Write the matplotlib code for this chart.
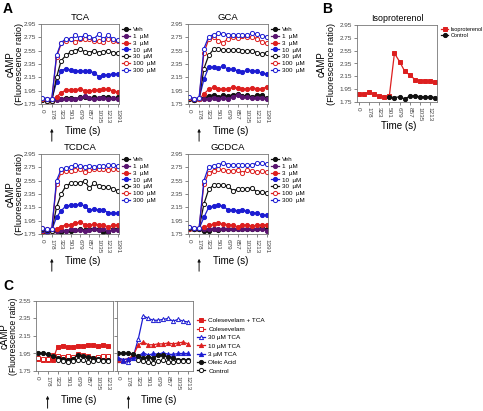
import matplotlib
matplotlib.use('Agg')
import matplotlib.pyplot as plt

plt.rcParams['font.family'] = ['Liberation Sans', 'DejaVu Sans']

W, H = 483, 411

# ---- data -------------------------------------------------------------
ticks_a = ['0', '178', '323', '501', '679', '857', '1035', '1213', '1391']
ticks_bc = ['0', '178', '323', '501', '679', '857', '1035', '1213']

conc_labels = ['Veh', '1  µM', '3  µM', '10  µM', '30  µM', '100  µM', '300  µM']

tca = [
    [1.82, 1.80, 1.80, 1.82, 1.83, 1.84, 1.84, 1.83, 1.85, 1.86, 1.84, 1.85, 1.84, 1.85, 1.86, 1.84, 1.85],
    [1.81, 1.80, 1.80, 1.81, 1.82, 1.82, 1.83, 1.83, 1.84, 1.87, 1.84, 1.83, 1.84, 1.84, 1.83, 1.84, 1.83],
    [1.82, 1.80, 1.80, 1.86, 1.92, 1.96, 1.96, 1.96, 1.98, 1.95, 1.94, 1.96, 1.96, 1.97, 1.97, 1.95, 1.93],
    [1.83, 1.82, 1.82, 2.08, 2.25, 2.28, 2.26, 2.24, 2.25, 2.24, 2.24, 2.22, 2.16, 2.18, 2.19, 2.20, 2.20],
    [1.81, 1.80, 1.80, 2.15, 2.40, 2.48, 2.53, 2.55, 2.58, 2.53, 2.52, 2.55, 2.52, 2.53, 2.55, 2.52, 2.52],
    [1.83, 1.82, 1.82, 2.45, 2.66, 2.70, 2.72, 2.68, 2.72, 2.73, 2.72, 2.70, 2.70, 2.68, 2.73, 2.70, 2.70],
    [1.84, 1.83, 1.83, 2.48, 2.67, 2.73, 2.72, 2.78, 2.74, 2.78, 2.76, 2.73, 2.80, 2.72, 2.79, 2.72, 2.71],
]
gca = [
    [1.82, 1.81, 1.82, 1.84, 1.87, 1.89, 1.86, 1.88, 1.87, 1.89, 1.90, 1.87, 1.88, 1.86, 1.88, 1.89, 1.84],
    [1.82, 1.81, 1.82, 1.82, 1.83, 1.84, 1.83, 1.84, 1.82, 1.86, 1.88, 1.86, 1.85, 1.84, 1.84, 1.84, 1.83],
    [1.82, 1.81, 1.82, 1.90, 1.97, 2.00, 1.98, 1.97, 1.98, 2.00, 1.99, 1.97, 1.98, 1.99, 1.98, 1.97, 2.01],
    [1.83, 1.82, 1.83, 2.12, 2.30, 2.30, 2.29, 2.32, 2.27, 2.27, 2.25, 2.23, 2.26, 2.25, 2.24, 2.21, 2.20],
    [1.82, 1.81, 1.82, 2.28, 2.48, 2.57, 2.57, 2.56, 2.56, 2.56, 2.56, 2.55, 2.54, 2.55, 2.52, 2.50, 2.52],
    [1.84, 1.83, 1.83, 2.52, 2.72, 2.76, 2.70, 2.67, 2.73, 2.75, 2.74, 2.77, 2.75, 2.76, 2.73, 2.68, 2.66],
    [1.85, 1.83, 1.84, 2.58, 2.76, 2.79, 2.81, 2.80, 2.79, 2.78, 2.79, 2.79, 2.78, 2.81, 2.80, 2.77, 2.76],
]
tcdca = [
    [1.78, 1.78, 1.79, 1.79, 1.78, 1.79, 1.80, 1.81, 1.82, 1.81, 1.82, 1.83, 1.82, 1.78, 1.78, 1.82, 1.82],
    [1.80, 1.78, 1.79, 1.80, 1.81, 1.80, 1.82, 1.81, 1.81, 1.80, 1.81, 1.82, 1.81, 1.82, 1.80, 1.81, 1.81],
    [1.80, 1.79, 1.80, 1.83, 1.86, 1.89, 1.89, 1.91, 1.93, 1.89, 1.88, 1.90, 1.89, 1.88, 1.86, 1.88, 1.88],
    [1.81, 1.80, 1.81, 2.00, 2.10, 2.17, 2.18, 2.18, 2.20, 2.17, 2.11, 2.12, 2.11, 2.11, 2.07, 2.06, 2.06],
    [1.83, 1.81, 1.80, 2.15, 2.35, 2.47, 2.51, 2.52, 2.52, 2.54, 2.44, 2.51, 2.47, 2.46, 2.45, 2.43, 2.40],
    [1.84, 1.82, 1.82, 2.50, 2.68, 2.69, 2.70, 2.71, 2.72, 2.68, 2.71, 2.72, 2.72, 2.72, 2.71, 2.73, 2.72],
    [1.84, 1.82, 1.83, 2.55, 2.72, 2.74, 2.76, 2.78, 2.77, 2.76, 2.77, 2.76, 2.77, 2.77, 2.78, 2.78, 2.77],
]
gcdca = [
    [1.83, 1.82, 1.82, 1.80, 1.80, 1.82, 1.81, 1.82, 1.83, 1.82, 1.83, 1.83, 1.82, 1.83, 1.83, 1.84, 1.82],
    [1.83, 1.82, 1.82, 1.83, 1.83, 1.83, 1.82, 1.83, 1.82, 1.83, 1.82, 1.83, 1.83, 1.82, 1.83, 1.83, 1.80],
    [1.83, 1.82, 1.82, 1.85, 1.88, 1.90, 1.91, 1.90, 1.89, 1.88, 1.86, 1.88, 1.88, 1.87, 1.88, 1.88, 1.89],
    [1.84, 1.83, 1.83, 2.00, 2.15, 2.17, 2.18, 2.17, 2.11, 2.11, 2.10, 2.11, 2.09, 2.07, 2.06, 2.04, 2.03],
    [1.84, 1.83, 1.83, 2.20, 2.42, 2.48, 2.48, 2.48, 2.47, 2.40, 2.42, 2.42, 2.43, 2.44, 2.38, 2.38, 2.37],
    [1.85, 1.84, 1.84, 2.50, 2.67, 2.70, 2.72, 2.71, 2.70, 2.70, 2.71, 2.67, 2.71, 2.70, 2.68, 2.69, 2.68],
    [1.86, 1.84, 1.84, 2.55, 2.76, 2.77, 2.78, 2.82, 2.79, 2.79, 2.78, 2.78, 2.78, 2.79, 2.81, 2.81, 2.80],
]

iso = [1.88, 1.87, 1.90, 1.87, 1.84, 1.83, 1.84, 2.51, 2.38, 2.23, 2.17, 2.10, 2.08, 2.08, 2.07, 2.06]
iso_ctrl = [None, None, None, None, None, None, 1.83, 1.82, 1.83, 1.80, 1.84, 1.85, 1.83, 1.83, 1.83, 1.82]

c_col_tca = [1.89, 1.88, 1.87, 1.87, 2.03, 2.04, 2.02, 2.03, 2.04, 2.04, 2.05, 2.05, 2.04, 2.05, 2.04]
c_col = [1.90, 1.89, 1.89, 1.93, 1.92, 1.91, 1.92, 1.91, 1.94, 1.93, 1.92, 1.90, 1.91, 1.92, 1.92]
c_oleic_l = [1.96, 1.95, 1.94, 1.92, 1.90, 1.89, 1.88, 1.89, 1.93, 1.92, 1.91, 1.90, 1.89, 1.88, 1.88]
c_ctrl_l = [None, None, None, None, 1.87, 1.86, 1.85, 1.86, 1.88, 1.88, 1.85, 1.86, 1.87, 1.86, 1.86]
c_tca30 = [1.87, 1.86, 1.85, 1.92, 2.12, 2.38, 2.35, 2.33, 2.33, 2.34, 2.35, 2.32, 2.34, 2.32, 2.31]
c_tca10 = [1.88, 1.88, 1.89, 1.93, 2.05, 2.08, 2.05, 2.05, 2.06, 2.06, 2.07, 2.06, 2.07, 2.08, 2.06]
c_tca3 = [1.90, 1.88, 1.89, 1.90, 1.92, 1.96, 1.93, 1.95, 1.94, 1.96, 1.94, 1.94, 1.95, 1.95, 1.95]
c_oleic_r = [1.96, 1.95, 1.95, 1.94, 1.92, 1.90, 1.91, 1.90, 1.93, 1.93, 1.91, 1.90, 1.88, 1.88, 1.88]
c_ctrl_r = [None, None, None, None, 1.88, 1.86, 1.85, 1.84, 1.86, 1.87, 1.85, 1.85, 1.86, 1.86, 1.86]

# ---- styling ------------------------------------------------------------
BLACK, PURPLE, RED, BLUE = '#111111', '#5a1470', '#dd1f1f', '#1c1cd2'
conc_colors = [BLACK, PURPLE, RED, BLUE, BLACK, RED, BLUE]
conc_open = [False, False, False, False, True, True, True]

fig = plt.figure(figsize=(W / 100, H / 100), dpi=100)


def add_ax(x0, y0, x1, y1):
    return fig.add_axes([x0 / W, 1 - y1 / H, (x1 - x0) / W, (y1 - y0) / H])


def fx(x):
    return x / W


def fy(y):
    return 1 - y / H


def draw(ax, y, color, marker, hollow, label, ms=3.0):
    xs = [i for i, v in enumerate(y) if v is not None]
    ys = [v for v in y if v is not None]
    ax.plot(xs, ys, color=color, lw=0.9, marker=marker, ms=ms,
            mfc='white' if hollow else color, mec=color, mew=0.7, label=label)


def frame(ax, labels, ylim, yticks, xmax, show_y=True):
    ax.set_xlim(-0.3, xmax)
    ax.set_ylim(*ylim)
    ax.set_xticks(range(0, 2 * len(labels), 2))
    ax.set_xticklabels(labels, rotation=-90, fontsize=4.6, color='#444444')
    ax.set_yticks(yticks)
    if show_y:
        ax.set_yticklabels(['%.2f' % v for v in yticks], fontsize=4.6, color='#444444')
    else:
        ax.set_yticklabels([])
    ax.tick_params(length=2, width=0.5, color='#555555', pad=1.5)
    for s in ax.spines.values():
        s.set_color('#777777')
        s.set_linewidth(0.6)


def arrow(ax, xi, y_tip, y_tail):
    ax.annotate('', xy=(xi, fy(y_tip)), xytext=(xi, fy(y_tail)),
                xycoords=('data', 'figure fraction'), textcoords=('data', 'figure fraction'),
                arrowprops=dict(arrowstyle='-|>', color='#111111', lw=0.7,
                                mutation_scale=4), annotation_clip=False)


def ylab(x, y, size=6.6):
    fig.text(fx(x), fy(y), 'cAMP', rotation=90, ha='center', va='center', fontsize=7)
    fig.text(fx(x + 9), fy(y), '(Fluorescence ratio)', rotation=90, ha='center',
             va='center', fontsize=size)


yt_a = [1.75, 1.95, 2.15, 2.35, 2.55, 2.75, 2.95]
yt_c = [1.75, 1.95, 2.15, 2.35, 2.55]

# ---- panel A --------------------------------------------------------------
panels_a = [('TCA', tca, (41, 24, 119, 104)), ('GCA', gca, (188, 24, 268, 104)),
            ('TCDCA', tcdca, (41, 154, 119, 234)), ('GCDCA', gcdca, (188, 154, 268, 234))]
for name, vals, box in panels_a:
    ax = add_ax(*box)
    for series, col, hol, lab in zip(vals, conc_colors, conc_open, conc_labels):
        draw(ax, series, col, 'o', hol, lab)
    frame(ax, ticks_a, (1.75, 2.95), yt_a, 16.3)
    ax.set_title(name, fontsize=6.8, pad=3)
    ax.legend(loc='upper left', bbox_to_anchor=(fx(box[2] + 3), fy(box[1] + 3)),
              bbox_transform=fig.transFigure, frameon=False, fontsize=4.5,
              handlelength=1.3, handletextpad=0.4, labelspacing=0.22, borderpad=0,
              borderaxespad=0)
    fig.text(fx((box[0] + box[2]) / 2 + 3), fy(box[3] + 27), 'Time (s)',
             ha='center', va='center', fontsize=7)
    arrow(ax, 2, box[3] + 22, box[3] + 40)

ylab(11, 64)
ylab(11, 194)

# ---- panel B --------------------------------------------------------------
axb = add_ax(357, 25, 437, 102)
draw(axb, iso, RED, 's', False, 'Isoproterenol')
draw(axb, iso_ctrl, BLACK, 'o', False, 'Control')
frame(axb, ticks_bc, (1.75, 2.95), yt_a, 15.3)
axb.set_title('Isoproterenol', fontsize=6.4, pad=3)
axb.legend(loc='upper left', bbox_to_anchor=(fx(441), fy(27)),
           bbox_transform=fig.transFigure, frameon=False, fontsize=4.0,
           handlelength=1.3, handletextpad=0.4, labelspacing=0.25, borderpad=0,
           borderaxespad=0)
fig.text(fx(399), fy(126), 'Time (s)', ha='center', va='center', fontsize=7)
ylab(322, 64)

# ---- panel C --------------------------------------------------------------
axl = add_ax(36, 301, 113, 371)
draw(axl, c_col_tca, RED, 's', False, 'Colesevelam + TCA')
draw(axl, c_col, RED, 's', True, 'Colesevelam')
draw(axl, c_oleic_l, BLACK, 'o', False, 'Oleic Acid')
draw(axl, c_ctrl_l, BLACK, 'o', True, 'Control')
frame(axl, ticks_bc, (1.75, 2.55), yt_c, 15.0)

axr = add_ax(117, 301, 193, 371)
draw(axr, c_tca30, BLUE, '^', True, '30 µM TCA')
draw(axr, c_tca10, RED, '^', False, '10 µM TCA')
draw(axr, c_tca3, BLUE, '^', False, '3 µM TCA')
draw(axr, c_oleic_r, BLACK, 'o', False, 'Oleic Acid')
draw(axr, c_ctrl_r, BLACK, 'o', True, 'Control')
frame(axr, ticks_bc, (1.75, 2.55), yt_c, 15.0, show_y=False)

hl, ll = axl.get_legend_handles_labels()
hr, lr = axr.get_legend_handles_labels()
fig.legend(hl[:2] + hr, ll[:2] + lr, loc='upper left', bbox_to_anchor=(fx(197), fy(318)),
           frameon=False, fontsize=4.6, handlelength=1.3, handletextpad=0.5,
           labelspacing=0.45, borderpad=0, borderaxespad=0)

for ax in (axl, axr):
    pos = ax.get_position()
    fig.text((pos.x0 + pos.x1) / 2 + fx(4), fy(400), 'Time (s)',
             ha='center', va='center', fontsize=7)
    arrow(ax, 2, 393, 411)
ylab(5, 336, size=6.2)

# ---- panel letters ----------------------------------------------------------
fig.text(fx(3), fy(9), 'A', fontsize=10, fontweight='bold', va='center')
fig.text(fx(322), fy(9), 'B', fontsize=10, fontweight='bold', va='center')
fig.text(fx(3), fy(286), 'C', fontsize=10, fontweight='bold', va='center')

fig.savefig('out.png', dpi=100)
